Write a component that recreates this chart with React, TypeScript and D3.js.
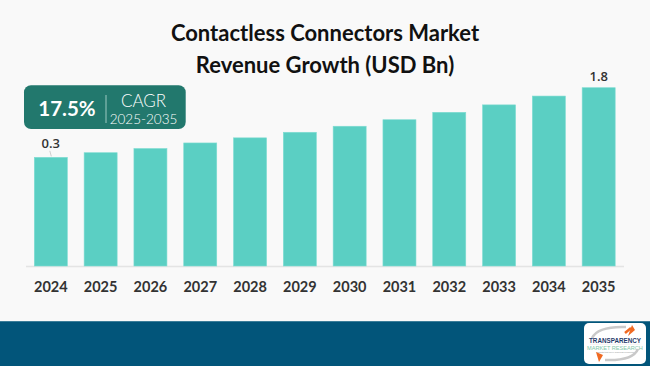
import * as d3 from 'd3'

const years = ['2024', '2025', '2026', '2027', '2028', '2029', '2030', '2031', '2032', '2033', '2034', '2035']
const revenue = [0.3, 0.4, 0.49, 0.61, 0.72, 0.84, 0.97, 1.11, 1.27, 1.43, 1.62, 1.8]
const labelled = ['2024', '2035']
const titleLines = ['Contactless Connectors Market', 'Revenue Growth (USD Bn)']
const cagrValue = '17.5%'
const cagrPeriod = '2025-2035'

function App() {
  const W = 650
  const H = 366
  const baseY = 266

  // x: band scale across the axis line
  const x = d3.scaleBand().domain(years).range([26, 623.5]).paddingInner(0.337).paddingOuter(0.167)
  // y: chart axis is hidden and does not start at zero
  const y = d3.scaleLinear().domain([-2.04, 1.8]).range([baseY, 87.7])

  return (
    <svg width={W} height={H} style={{ position: 'absolute', left: 0, top: 0 }}>
      <rect width={W} height={H} fill='#f9f9f9' />

      {/* title */}
      {titleLines.map((t, i) => (
        <text key={t} x={325} y={41 + i * 31.5} textAnchor='middle' fontFamily='Lato' fontWeight='bold' fontSize={22} fill='#111'>{t}</text>
      ))}

      {/* axis line */}
      <line x1={26} x2={624} y1={baseY + 0.5} y2={baseY + 0.5} stroke='#e4e4e4' strokeWidth={1.5} />

      {/* bars */}
      {years.map((yr, i) => (
        <rect key={yr} x={x(yr)} y={y(revenue[i])} width={x.bandwidth()} height={baseY - y(revenue[i])}
          fill='#5bcfc3' stroke='#7fdcd2' strokeWidth={0.6} />
      ))}

      {/* year labels */}
      {years.map(yr => (
        <text key={'l' + yr} x={x(yr) + x.bandwidth() / 2} y={291.5} textAnchor='middle' fontFamily='Lato' fontWeight='bold' fontSize={14.5} fill='#333'>{yr}</text>
      ))}

      {/* value labels */}
      {years.map((yr, i) => labelled.includes(yr) && (
        <g key={'v' + yr}>
          <text x={x(yr) + x.bandwidth() / 2} y={i === 0 ? y(revenue[i]) - 9.8 : y(revenue[i]) - 6.7} textAnchor='middle' fontFamily='Open Sans' fontWeight={600} fontSize={13} fill='#333'>{revenue[i].toFixed(1)}</text>
          {i === 0 && <line x1={x(yr) + 15.5} x2={x(yr) + 17} y1={y(revenue[i]) - 6.5} y2={y(revenue[i]) - 1} stroke='#bbb' strokeWidth={0.7} />}
        </g>
      ))}

      {/* CAGR box */}
      <rect x={24} y={85.3} width={161.7} height={43.7} rx={7} fill='#22786d' />
      <line x1={106} x2={106} y1={95} y2={123} stroke='#9cc9c2' strokeWidth={1} />
      <text x={67} y={115.5} textAnchor='middle' fontFamily='Lato' fontWeight='bold' fontSize={20.5} fill='#fff'>{cagrValue}</text>
      <text x={143.5} y={107} textAnchor='middle' fontFamily='Lato' fontWeight={300} fontSize={17} fill='#fff'>CAGR</text>
      <text x={143.5} y={124} textAnchor='middle' fontFamily='Lato' fontWeight={300} fontSize={13.5} fill='#fff'>{cagrPeriod}</text>

      {/* footer */}
      <rect x={0} y={321} width={W} height={H - 321} fill='#02557a' />
      <line x1={0} x2={W} y1={321.5} y2={321.5} stroke='#3c7d99' strokeWidth={1} />

      {/* logo */}
      <g>
        <rect x={584} y={323} width={62} height={41} rx={5} fill='#fff' />
        <path d='M592,338 Q598,326 626,327' fill='none' stroke='#c9c9c9' strokeWidth={2.5} />
        <path d='M628,336 L632,325 L635,330 Z' fill='#f06a22' />
        <path d='M625,333 L631,328' stroke='#f06a22' strokeWidth={2.5} />
        <text x={615} y={342.5} textAnchor='middle' fontFamily='Liberation Sans' fontWeight='bold' fontSize={6.3} fill='#1f3b6b'>TRANSPARENCY</text>
        <line x1={590} x2={640} y1={344.3} y2={344.3} stroke='#ddd' strokeWidth={0.4} />
        <text x={615} y={350} textAnchor='middle' fontFamily='Liberation Sans' fontSize={5.6} fill='#7fc7a8'>MARKET RESEARCH</text>
        <text x={615} y={353.3} textAnchor='middle' fontFamily='Liberation Sans' fontSize={2.3} fill='#999'>Insights that drive business decisions</text>
        <path d='M638,349 Q633,361 605,360' fill='none' stroke='#c9c9c9' strokeWidth={2.5} />
        <path d='M596,352 L599,362 L603,355 Z' fill='#f06a22' />
      </g>
    </svg>
  )
}

export default App
